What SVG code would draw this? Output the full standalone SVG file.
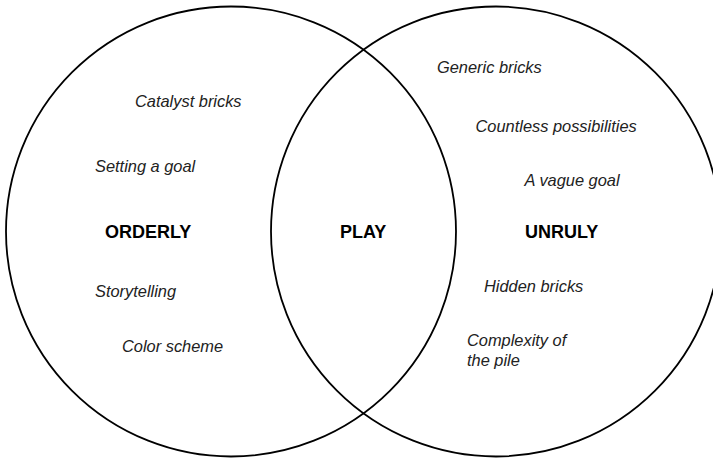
<svg xmlns="http://www.w3.org/2000/svg" width="713" height="459" viewBox="0 0 713 459">
<style>
.set{fill:none;stroke:#000;stroke-width:1.8}
.it{font-family:"Liberation Sans",Arial,sans-serif;font-style:italic;font-size:16.4px;fill:#222}
.bd{font-family:"Liberation Sans",Arial,sans-serif;font-weight:bold;font-size:18px;fill:#000}
</style>
<rect width="713" height="459" fill="#fff"/>
<g id="orderly">
<circle class="set" cx="231" cy="231.5" r="225"/>
<text class="bd" x="105" y="238">ORDERLY</text>
<text class="it" x="135" y="107">Catalyst bricks</text>
<text class="it" x="95" y="171.5">Setting a goal</text>
<text class="it" x="95" y="297">Storytelling</text>
<text class="it" x="122" y="352">Color scheme</text>
</g>
<g id="unruly">
<circle class="set" cx="496" cy="231.5" r="225"/>
<text class="bd" x="525" y="238">UNRULY</text>
<text class="it" x="437" y="73">Generic bricks</text>
<text class="it" x="475.5" y="131.7">Countless possibilities</text>
<text class="it" x="524.5" y="185.5">A vague goal</text>
<text class="it" x="484" y="291.5">Hidden bricks</text>
<text class="it" x="467" y="345.5">Complexity of</text>
<text class="it" x="467" y="365.5">the pile</text>
</g>
<g id="play">
<text class="bd" x="340" y="238">PLAY</text>
</g>
</svg>
